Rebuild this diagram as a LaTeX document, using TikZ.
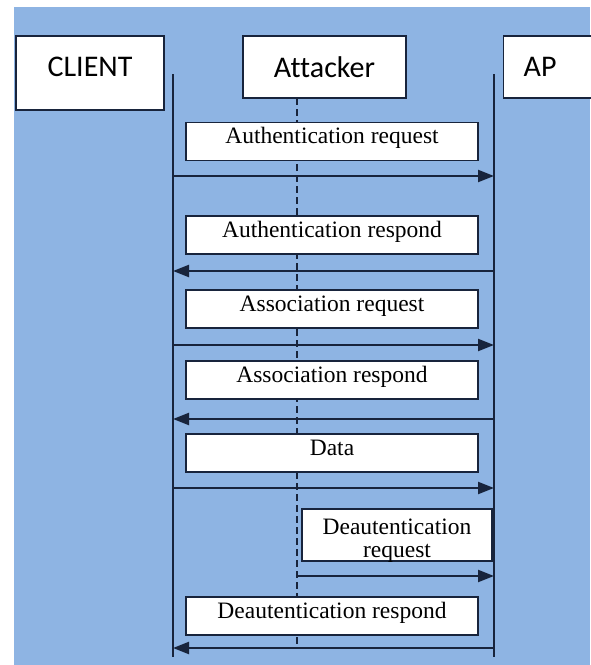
\documentclass[tikz,border=0pt]{standalone}
\usepackage{fontspec}
\setmainfont{Liberation Serif}
\newfontfamily\headfont[Ligatures=NoCommon]{Carlito}
\usetikzlibrary{arrows.meta}
\definecolor{bgblue}{RGB}{142,180,227}
\definecolor{navy}{RGB}{24,36,60}
\begin{document}
\begin{tikzpicture}[x=1pt, y=-1pt, line join=miter,
  actor/.style={draw=navy, line width=1.4pt, fill=white, inner sep=0pt, font=\headfont\fontsize{30}{30}\selectfont},
  msg node/.style={draw=navy, line width=1.4pt, fill=white, inner xsep=0pt, inner ysep=0pt, minimum width=292pt, minimum height=38pt, text height=21pt, text depth=17pt, font=\fontsize{23.5}{23}\selectfont},
  life/.style={navy, line width=1.6pt},
  msg/.style={navy, line width=2.2pt, -{Triangle[length=16pt,width=12pt]}}]
\useasboundingbox (0,0) rectangle (590,665);
\fill[white] (0,0) rectangle (590,665);
\fill[bgblue] (14,7) rectangle (590,665);
% actors
\node[actor, minimum width=148pt, minimum height=74pt, text depth=12pt] (client) at (90,73) {CLIENT};
\node[actor, minimum width=163pt, minimum height=62pt] (attacker) at (324.5,67) {Attacker};
\node[actor, minimum width=100pt, minimum height=62pt, anchor=west, inner xsep=20pt, text width=60pt, align=left] (ap) at (503,67) {AP};
% lifelines
\coordinate (ctop) at (173,74);
\coordinate (cbot) at (173,657);
\coordinate (aptop) at (494,74);
\coordinate (apbot) at (494,657);
\coordinate (atop) at (297,98);
\coordinate (abot) at (297,647);
\draw[life] (ctop) -- (cbot);
\draw[life] (aptop) -- (apbot);
\draw[life, dash pattern=on 7pt off 4pt] (atop) -- (abot);
% messages
\node[msg node] (m1) at (332,141.5) {Authentication request};
\node[msg node] (m2) at (332,235) {Authentication respond};
\node[msg node] (m3) at (332,309) {Association request};
\node[msg node] (m4) at (332,380) {Association respond};
\node[msg node] (m5) at (332,453) {Data};
\node[msg node, minimum width=190pt, minimum height=52pt] (m6) at (397,535) {};
\node[inner sep=0pt, anchor=north, align=center, font=\fontsize{23.5}{23}\selectfont] (m6text) at (397,519) {Deautentication\\request};
\node[msg node] (m7) at (332,616) {Deautentication respond};
% arrows
\coordinate (c1) at (173,176);  \coordinate (p1) at (494,176);
\coordinate (c2) at (173,271);  \coordinate (p2) at (494,271);
\coordinate (c3) at (173,345);  \coordinate (p3) at (494,345);
\coordinate (c4) at (173,419);  \coordinate (p4) at (494,419);
\coordinate (c5) at (173,488);  \coordinate (p5) at (494,488);
\coordinate (a6) at (297,576);  \coordinate (p6) at (494,576);
\coordinate (c7) at (173,648);  \coordinate (p7) at (494,648);
\draw[msg] (c1) -- (p1);
\draw[msg] (p2) -- (c2);
\draw[msg] (c3) -- (p3);
\draw[msg] (p4) -- (c4);
\draw[msg] (c5) -- (p5);
\draw[msg] (a6) -- (p6);
\draw[msg] (p7) -- (c7);
\end{tikzpicture}
\end{document}
